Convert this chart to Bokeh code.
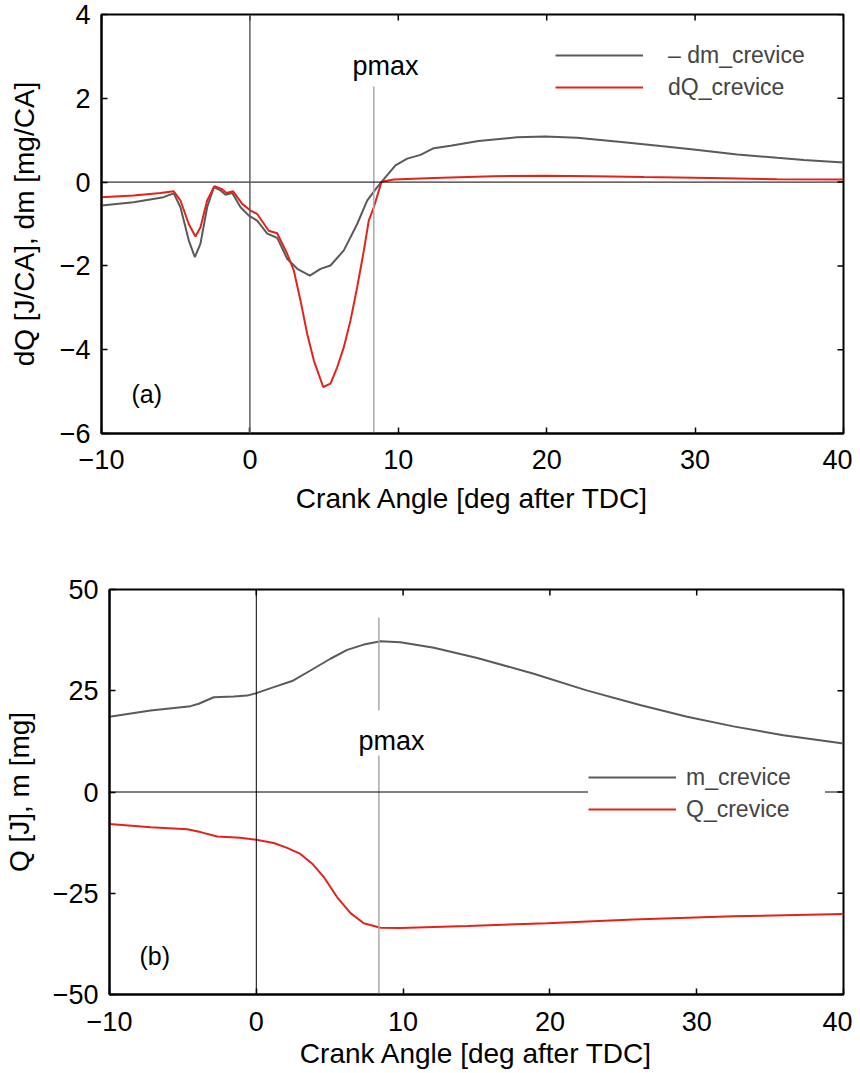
import math
from bokeh.plotting import figure
from bokeh.models import Legend, LegendItem, Label, Span, FixedTicker, Range1d
from bokeh.embed import file_html
from bokeh.resources import INLINE

FONT = "Liberation Sans"
GRAY = "#5a5a5a"
RED = "#e3231b"
PMAX_GRAY = "#a8a8a8"

x_ticks = [-10, 0, 10, 20, 30, 40]
a_y_ticks = [-6, -4, -2, 0, 2, 4]
b_y_ticks = [-50, -25, 0, 25, 50]
pmax_angle = 8.35

x_title = "Crank Angle [deg after TDC]"
a_y_title = "dQ [J/CA], dm [mg/CA]"
b_y_title = "Q [J], m [mg]"

# (a) rates
a_dm_angle = [-10, -7.84, -5.82, -5.13, -4.68, -4.12, -3.71, -3.33, -2.88, -2.43, -1.98, -1.64,
              -1.19, -0.63, -0.07, 0.49, 1.17, 1.84, 2.51, 3.19, 4.04, 4.76, 5.43, 6.33, 7.23,
              7.90, 8.58, 9.14, 9.81, 10.6, 11.5, 12.39, 13.52, 15.4, 18.0, 19.9, 22.05, 25.2,
              27.67, 29.9, 32.84, 35.53, 37.33, 40]
a_dm = [-0.56, -0.48, -0.36, -0.27, -0.60, -1.39, -1.79, -1.47, -0.60, -0.12, -0.20, -0.30,
        -0.26, -0.60, -0.80, -0.92, -1.23, -1.33, -1.83, -2.07, -2.23, -2.07, -1.99, -1.63, -1.00,
        -0.44, -0.12, 0.12, 0.40, 0.56, 0.65, 0.81, 0.87, 0.98, 1.07, 1.09, 1.06, 0.95,
        0.86, 0.78, 0.66, 0.58, 0.53, 0.47]

a_dq_angle = [-10, -7.84, -6.02, -5.13, -4.68, -4.12, -3.67, -3.33, -2.88, -2.39, -1.87, -1.58,
              -1.13, -0.52, 0.04, 0.49, 1.27, 1.84, 2.51, 2.96, 3.41, 3.86, 4.31, 4.94, 5.43,
              5.88, 6.33, 6.78, 7.23, 7.68, 8.01, 8.35, 8.87, 9.70, 12.39, 16.4, 19.9, 23.17,
              26.54, 31.04, 35.53, 40]
a_dq = [-0.36, -0.32, -0.26, -0.22, -0.44, -1.00, -1.30, -1.08, -0.44, -0.10, -0.17, -0.26,
        -0.22, -0.52, -0.68, -0.76, -1.16, -1.22, -1.71, -2.11, -2.83, -3.62, -4.26, -4.89, -4.81,
        -4.42, -3.94, -3.30, -2.51, -1.63, -0.92, -0.60, 0.01, 0.06, 0.10, 0.14, 0.15, 0.14,
        0.12, 0.10, 0.07, 0.06]

# (b) integrals
b_m_angle = [-10, -7.2, -4.48, -3.92, -2.90, -1.53, -0.62, 0, 1.19, 2.44, 3.69, 5.05, 6.19,
             7.32, 8.46, 9.82, 12.1, 15.05, 18.9, 22.5, 26.2, 29.35, 32.5, 35.9, 40]
b_m = [18.6, 20.1, 21.2, 21.8, 23.4, 23.6, 23.8, 24.4, 25.9, 27.4, 30.0, 32.9, 35.1,
       36.4, 37.2, 37.0, 35.6, 33.1, 29.2, 25.1, 21.4, 18.6, 16.2, 14.0, 12.0]

b_q_angle = [-10, -7.2, -4.71, -3.80, -2.66, -1.08, 0, 1.19, 2.1, 3.0, 3.81, 4.60, 5.51, 6.42,
             7.32, 8.46, 9.82, 14.4, 19.8, 25.7, 32.5, 40]
b_q = [-7.9, -8.7, -9.2, -9.9, -11.0, -11.3, -11.8, -12.6, -13.8, -15.3, -17.7, -21.0, -26.0,
       -29.9, -32.4, -33.5, -33.6, -33.1, -32.4, -31.5, -30.7, -30.1]


def fmt(v):
    return str(v).replace("-", "\u2212")


def style(p, xt, yt, xlabel, ylabel, x_std, xl_std, y_std, yl_std):
    p.xgrid.visible = False
    p.ygrid.visible = False
    p.outline_line_color = "black"
    p.outline_line_width = 2
    p.background_fill_color = "white"
    p.border_fill_color = "white"
    p.xaxis.ticker = FixedTicker(ticks=xt)
    p.xaxis.major_label_overrides = {t: fmt(t) for t in xt}
    p.yaxis.ticker = FixedTicker(ticks=yt)
    p.yaxis.major_label_overrides = {t: fmt(t) for t in yt}
    for ax in p.xaxis + p.yaxis:
        ax.major_tick_in = 6
        ax.major_tick_out = 0
        ax.minor_tick_in = 0
        ax.minor_tick_out = 0
        ax.major_tick_line_width = 1.5
        ax.major_tick_line_color = "black"
        ax.axis_line_width = 2
        ax.axis_line_color = "black"
        ax.major_label_text_font = FONT
        ax.major_label_text_font_size = "27px"
        ax.major_label_text_color = "black"
        ax.axis_label_text_font = FONT
        ax.axis_label_text_font_size = "28px"
        ax.axis_label_text_font_style = "normal"
        ax.axis_label_text_color = "black"
    p.xaxis.axis_label = xlabel
    p.xaxis.major_label_standoff = x_std
    p.xaxis.axis_label_standoff = xl_std
    p.yaxis.axis_label = ylabel
    p.yaxis.major_label_standoff = y_std
    p.yaxis.axis_label_standoff = yl_std
    # inward ticks on the top and right frame edges (MATLAB "box on")
    ymax = p.y_range.end
    xmax = p.x_range.end
    p.scatter(x=xt, y=[ymax] * len(xt), marker="dash", size=12, angle=math.pi / 2,
              line_color="black", line_width=1.5)
    p.scatter(x=[xmax] * len(yt), y=yt, marker="dash", size=12, angle=0,
              line_color="black", line_width=1.5)


# ---------- (a) ----------
p1 = figure(frame_width=742, frame_height=419, x_range=Range1d(-10, 40), y_range=Range1d(-6, 4),
            output_backend="svg", toolbar_location=None,
            min_border_left=101, min_border_right=9, min_border_top=14, min_border_bottom=80)
style(p1, x_ticks, a_y_ticks, x_title, a_y_title, 16, 11, 11, 17)

r1 = p1.line(a_dm_angle, a_dm, line_color=GRAY, line_width=2)
r2 = p1.line(a_dq_angle, a_dq, line_color=RED, line_width=2)
p1.add_layout(Span(location=0, dimension="width", line_color="black", line_width=1))
p1.add_layout(Span(location=0, dimension="height", line_color="#5f5f5f", line_width=1.5))
p1.segment(x0=[pmax_angle], y0=[2.28], x1=[pmax_angle], y1=[-6], line_color=PMAX_GRAY, line_width=1.5)
p1.add_layout(Label(x=6.91, y=2.78, text="pmax", text_font=FONT, text_font_size="27px",
                    text_baseline="alphabetic", text_color="black"))
p1.add_layout(Label(x=-7.98, y=-5.05, text="(a)", text_font=FONT, text_font_size="25px",
                    text_baseline="middle", text_color="black"))
leg1 = Legend(items=[LegendItem(label="\u2013 dm_crevice", renderers=[r1]),
                     LegendItem(label="dQ_crevice", renderers=[r2])],
              location=(454, 330), padding=18, margin=0, spacing=0,
              glyph_width=88, glyph_height=32, label_height=32, label_standoff=25,
              label_text_font=FONT, label_text_font_size="23px",
              border_line_color=None, background_fill_color="white", background_fill_alpha=1.0)
p1.add_layout(leg1)

# ---------- (b) ----------
p2 = figure(frame_width=734, frame_height=405, x_range=Range1d(-10, 40), y_range=Range1d(-50, 50),
            output_backend="svg", toolbar_location=None,
            min_border_left=109, min_border_right=9, min_border_top=73, min_border_bottom=75)
style(p2, x_ticks, b_y_ticks, x_title, b_y_title, 17, 4, 11, 15)

r3 = p2.line(b_m_angle, b_m, line_color=GRAY, line_width=2)
r4 = p2.line(b_q_angle, b_q, line_color=RED, line_width=2)
p2.add_layout(Span(location=0, dimension="height", line_color="black", line_width=1))
p2.add_layout(Span(location=0, dimension="width", line_color="black", line_width=1))
p2.segment(x0=[pmax_angle, pmax_angle], y0=[43.1, 9.0], x1=[pmax_angle, pmax_angle], y1=[20.1, -50],
           line_color=PMAX_GRAY, line_width=1.5)
p2.add_layout(Label(x=6.96, y=12.7, text="pmax", text_font=FONT, text_font_size="27px",
                    text_baseline="alphabetic", text_color="black"))
p2.add_layout(Label(x=-7.96, y=-40.6, text="(b)", text_font=FONT, text_font_size="25px",
                    text_baseline="middle", text_color="black"))
leg2 = Legend(items=[LegendItem(label="m_crevice", renderers=[r3]),
                     LegendItem(label="Q_crevice", renderers=[r4])],
              location=(479, 169), padding=18, margin=0, spacing=0,
              glyph_width=88, glyph_height=32, label_height=32, label_standoff=10, label_width=139,
              label_text_font=FONT, label_text_font_size="23px",
              border_line_color=None, background_fill_color="white", background_fill_alpha=1.0)
p2.add_layout(leg2)

open("out.html", "w").write(file_html([p1, p2], INLINE))
